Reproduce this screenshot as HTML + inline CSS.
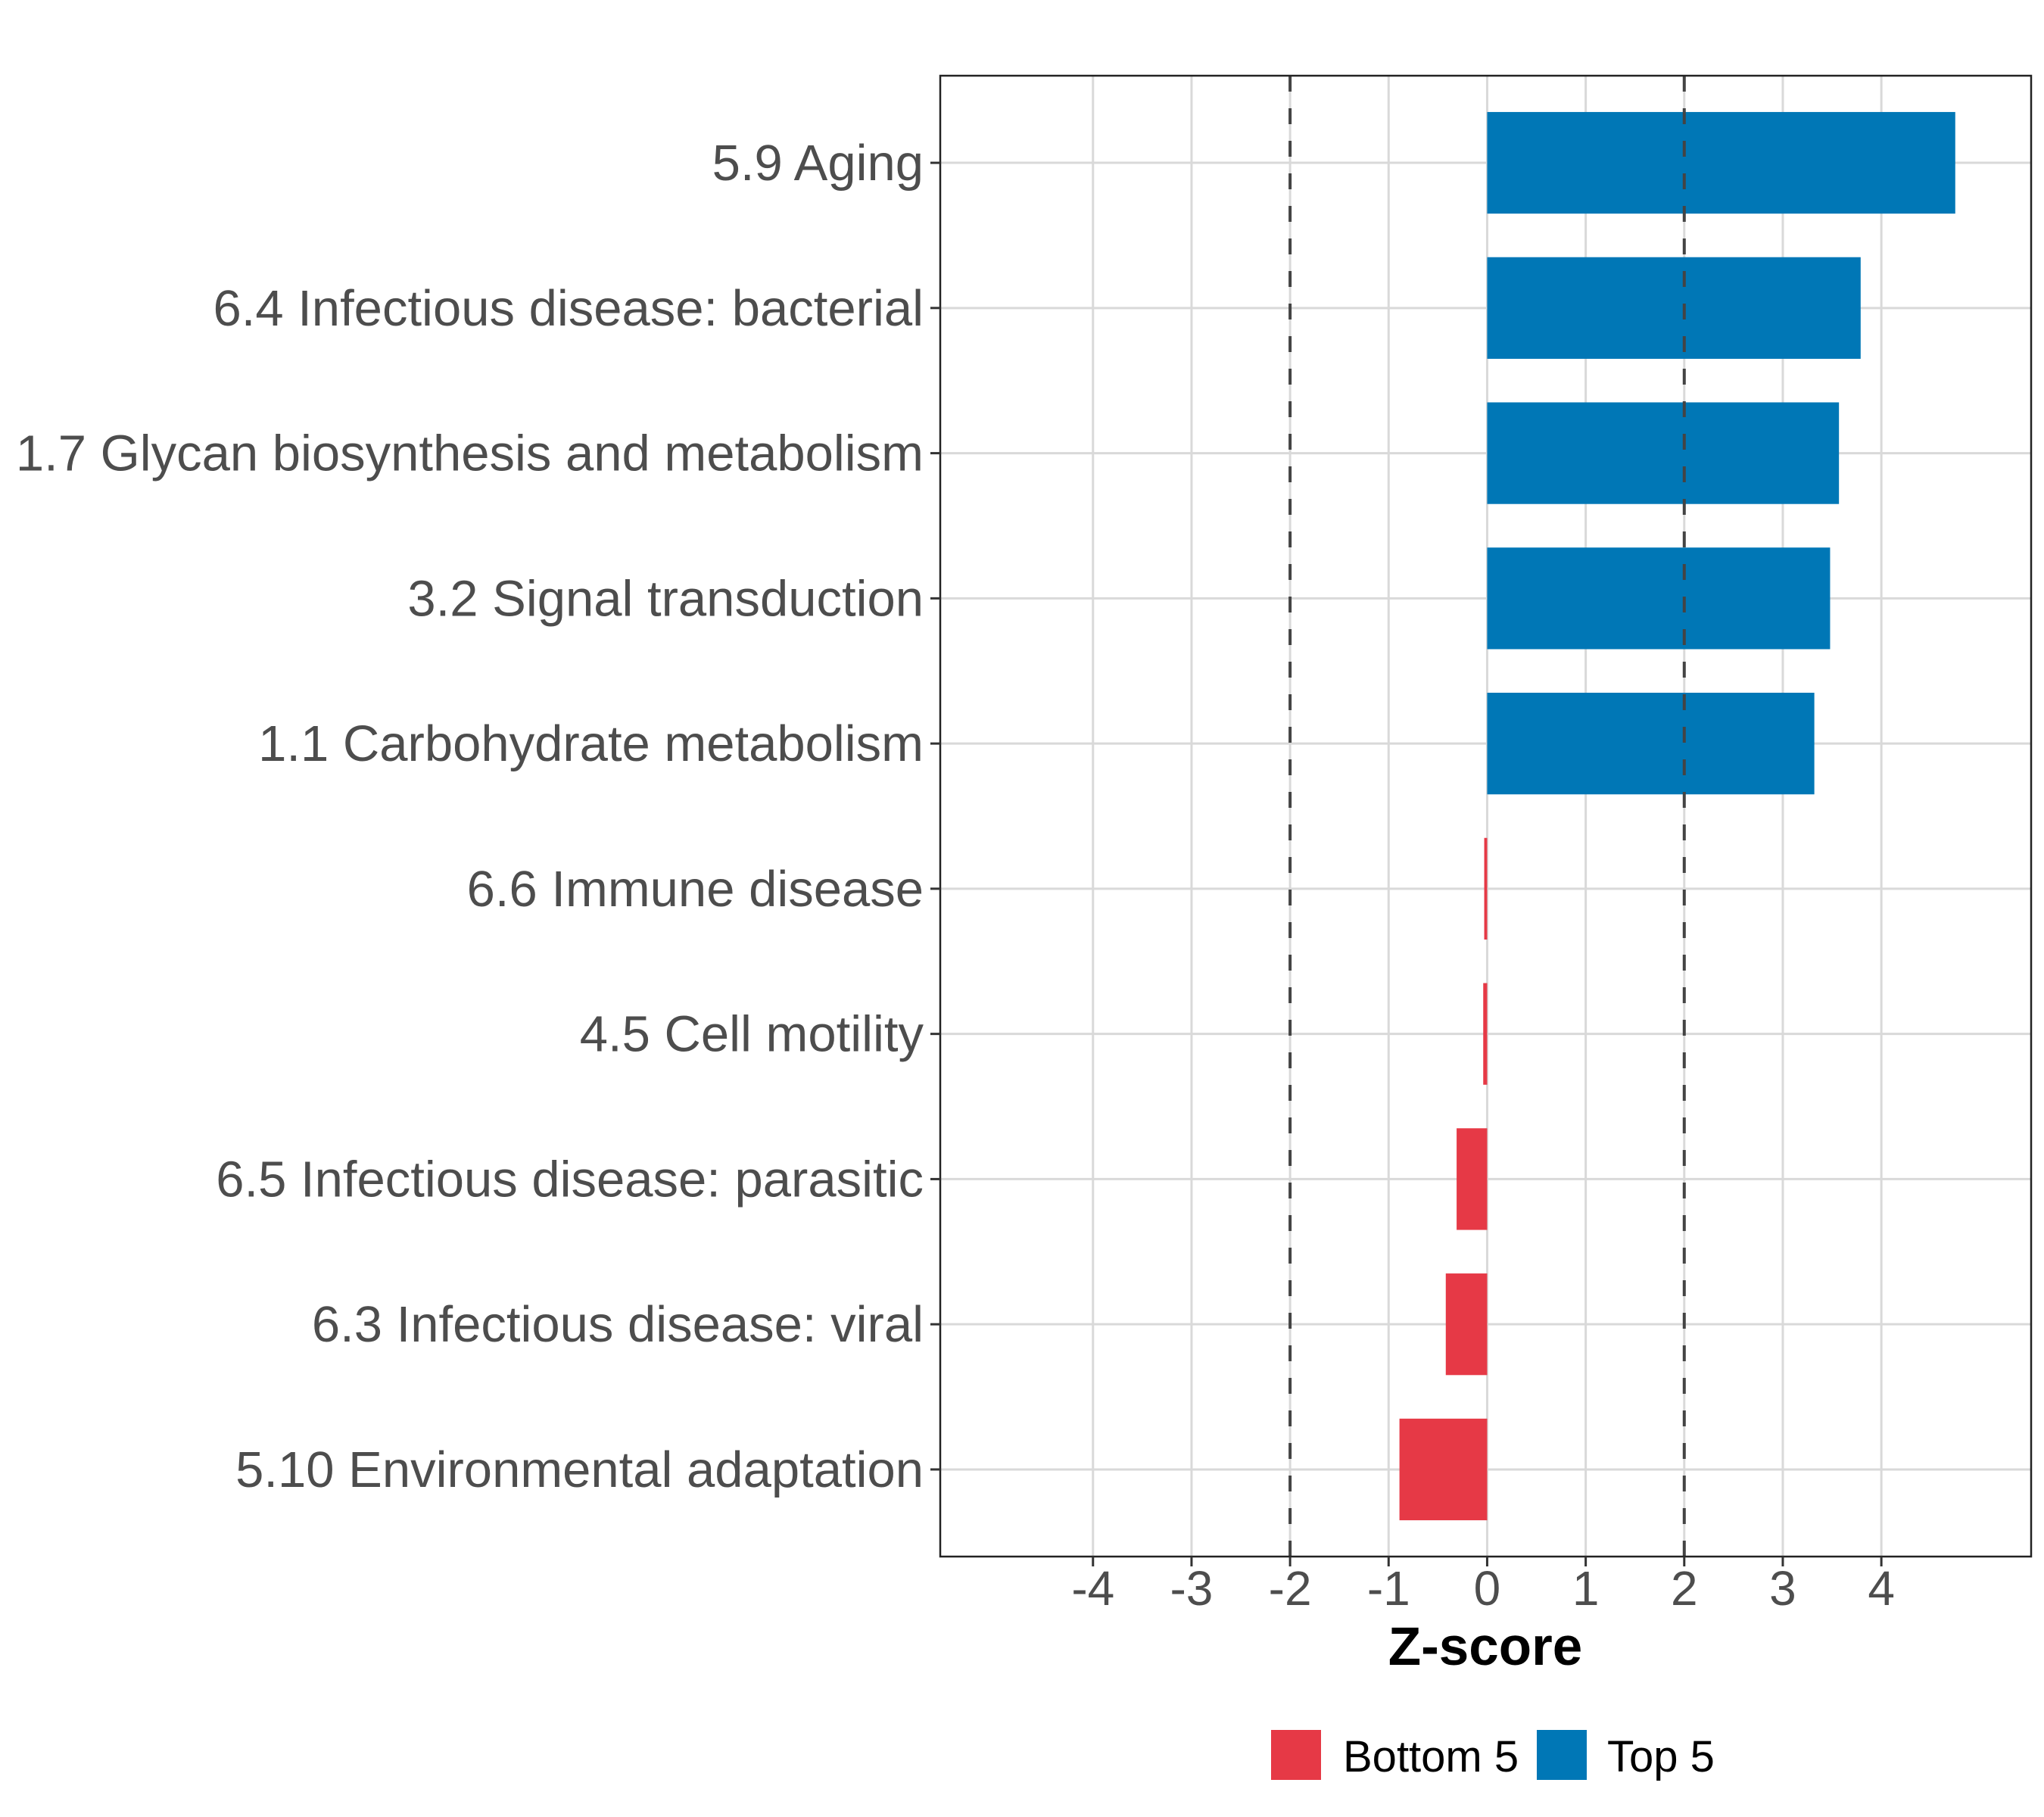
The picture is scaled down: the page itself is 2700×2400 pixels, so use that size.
<!DOCTYPE html>
<html><head><meta charset="utf-8"><style>
html,body{margin:0;padding:0;background:#fff;}
svg{display:block;}
text{font-family:"Liberation Sans",Arial,sans-serif;}
</style></head><body>
<svg id="chart" width="2700" height="2400" viewBox="0 0 2700 2400" xmlns="http://www.w3.org/2000/svg">
<rect x="0" y="0" width="2700" height="2400" fill="#fff"/>
<g id="grid"></g>
<g id="bars"></g>
<g id="refs"></g>
<rect x="1242" y="100" width="1441" height="1956" fill="none" stroke="#222" stroke-width="2.5"/>
<g id="yaxis"></g>
<g id="xaxis"></g>
<text x="1962" y="2199" font-size="71" font-weight="bold" text-anchor="middle" fill="#000">Z-score</text>
<g>
  <rect x="1679" y="2285" width="66" height="66" fill="#E63946"/>
  <text x="1774" y="2340" font-size="58" fill="#000">Bottom 5</text>
  <rect x="2030" y="2285" width="66" height="66" fill="#0077B6"/>
  <text x="2123" y="2340" font-size="58" fill="#000">Top 5</text>
</g>
</svg>
<script>
const categories = ["5.9 Aging","6.4 Infectious disease: bacterial","1.7 Glycan biosynthesis and metabolism","3.2 Signal transduction","1.1 Carbohydrate metabolism","6.6 Immune disease","4.5 Cell motility","6.5 Infectious disease: parasitic","6.3 Infectious disease: viral","5.10 Environmental adaptation"];
const zscores = [4.75, 3.79, 3.57, 3.48, 3.32, -0.03, -0.04, -0.31, -0.42, -0.89];
const groups = ["Top 5","Top 5","Top 5","Top 5","Top 5","Bottom 5","Bottom 5","Bottom 5","Bottom 5","Bottom 5"];
const xTicks = [-4,-3,-2,-1,0,1,2,3,4];
const xTickLabels = ["-4","-3","-2","-1","0","1","2","3","4"];
const thresholds = [-2, 2];

const NS = "http://www.w3.org/2000/svg";
const PL = 1242, PR = 2683, PT = 100, PB = 2056;
const xMin = -5.55, xMax = 5.52;
function xs(v){ return PL + (v - xMin) / (xMax - xMin) * (PR - PL); }
function ys(i){ const step = (PB - PT) / (categories.length + 0.2); return PT + (0.6 + i) * step; }
const bandH = (PB - PT) / (categories.length + 0.2) * 0.7;
function mk(tag, attrs, parent){ const e = document.createElementNS(NS, tag); for (const k in attrs) e.setAttribute(k, attrs[k]); parent.appendChild(e); return e; }
const grid = document.getElementById('grid'), bars = document.getElementById('bars'), refs = document.getElementById('refs'), yaxis = document.getElementById('yaxis'), xaxis = document.getElementById('xaxis');

xTicks.forEach((t, i) => {
  const g = mk('line', {x1: xs(t), x2: xs(t), y1: PT, y2: PB, stroke: '#d9d9d9', 'stroke-width': 3}, grid);
  
  
  const tk = mk('line', {x1: xs(t), x2: xs(t), y1: PB, y2: PB + 13, stroke: '#333', 'stroke-width': 3}, xaxis);
  
  
  const lb = mk('text', {x: xs(t), y: 2120, 'font-size': 64, 'text-anchor': 'middle', fill: '#4d4d4d'}, xaxis);
  lb.textContent = xTickLabels[i];
  
  
});
categories.forEach((c, i) => {
  const y = ys(i);
  const g = mk('line', {x1: PL, x2: PR, y1: y, y2: y, stroke: '#d9d9d9', 'stroke-width': 3}, grid);
  
  
  const v = zscores[i];
  const x0 = Math.min(xs(0), xs(v)), w = Math.abs(xs(v) - xs(0));
  const b = mk('rect', {x: x0, y: y - bandH / 2, width: Math.max(w, 1.5), height: bandH, fill: groups[i] === 'Top 5' ? '#0077B6' : '#E63946'}, bars);
  
  
  const tk = mk('line', {x1: PL - 13, x2: PL, y1: y, y2: y, stroke: '#333', 'stroke-width': 3}, yaxis);
  
  
  const lb = mk('text', {x: 1220, y: y + 23, 'font-size': 67, 'text-anchor': 'end', fill: '#4d4d4d'}, yaxis);
  lb.textContent = c;
  
  
});
thresholds.forEach(t => {
  const l = mk('line', {x1: xs(t), x2: xs(t), y1: PT, y2: PB, stroke: '#444', 'stroke-width': 4, 'stroke-dasharray': '21 22'}, refs);
  
  
});
</script>
</body></html>
